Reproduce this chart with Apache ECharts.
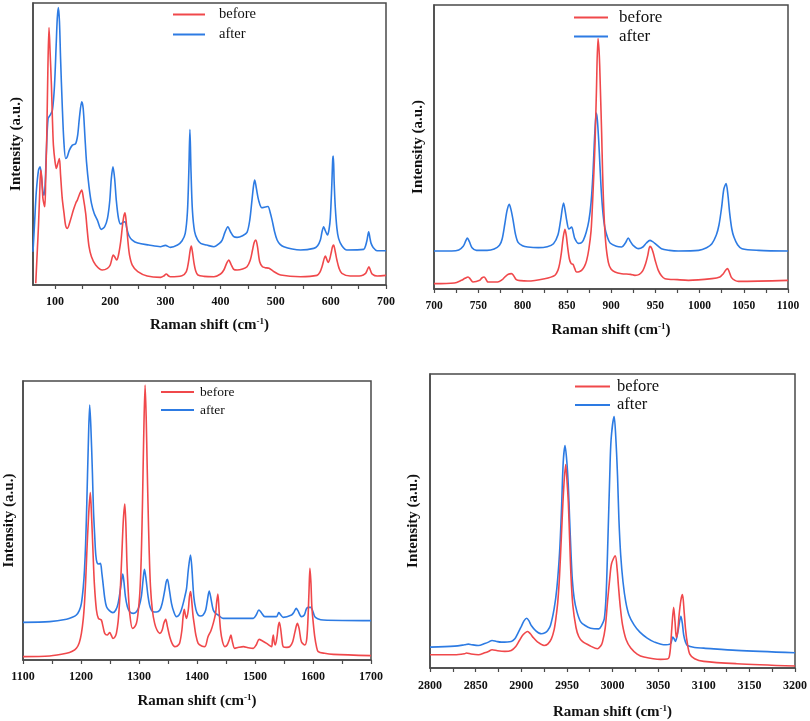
<!DOCTYPE html>
<html>
<head>
<meta charset="utf-8">
<script src="https://cdn.jsdelivr.net/npm/echarts@6/dist/echarts.min.js"></script>
<style>
html,body{margin:0;padding:0;background:#fff;}
#chart{width:810px;height:721px;}
</style>
</head>
<body>
<div id="chart"></div>
<script>
// ---------- Data (Raman shift, intensity a.u.) ----------
const seriesNames = ['before', 'after'];

// Panel 1 : 60-700 cm-1
const p1Before = [[65,5],[66,40],[68,110],[70,180],[72,270],[74,345],[76,320],[78,260],[81.3,235],[83,320],[85,450],[87,650],[89,773],[91,700],[93.4,600],[95,510],[97,420],[100,370],[102.4,350],[105,365],[107.8,380],[110,330],[113,260],[116.3,215],[119,180],[122.3,170],[127,190],[133.2,225],[138,248],[140.4,255],[145,275],[148.3,285],[151,265],[155.5,215],[158,170],[161.6,115],[166,85],[173.6,60],[185.7,45],[195,50],[200,60],[205.6,90],[208,85],[211.7,75],[215,90],[219,130],[222,175],[224.5,205],[226.8,217],[229,190],[232.2,130],[235,90],[240,60],[250,40],[267,27],[291.3,23],[297,27],[301.6,33],[306,27],[309,25],[330,28],[338,40],[342,70],[345,105],[347,117],[349,100],[352,65],[355,42],[359,30],[370,26],[388,25],[400,33],[406,45],[411,65],[415,75],[419,62],[424,47],[430,45],[440,48],[448,55],[454,75],[458,105],[461,128],[464,135],[467,115],[471,70],[476,55],[481,52],[488,50],[497,40],[509,30],[545,25],[575,29],[580,38],[584,55],[588,80],[590,87],[592,80],[595,68],[598,78],[601,100],[603,115],[605,120],[608,100],[611,75],[615,50],[620,35],[635,27],[655,28],[663,35],[666,45],[669,55],[672,43],[675,33],[684,27],[700,29]];
const p1After = [[60,100],[63,190],[66,280],[70,345],[72.8,355],[75,330],[78,280],[80.1,270],[82,300],[84,390],[87.3,500],[91,510],[95.2,525],[99,600],[102,720],[104,800],[106,833],[108,790],[110,680],[113,540],[116,430],[119.3,380],[122,385],[126,405],[131.4,420],[137.4,425],[141,450],[144,500],[148.3,550],[151,530],[154,450],[157,370],[161.6,295],[166,245],[171,215],[176.7,195],[183.9,167],[190,175],[195,200],[199,250],[202,320],[205,355],[208,320],[211,255],[215,200],[218.9,183],[223,188],[226.8,190],[230,170],[234,148],[240,135],[250,126],[270,120],[291,115],[300,119],[309,113],[322,120],[330,132],[336,155],[340,220],[342.5,340],[344.5,467],[346.5,340],[349,225],[353,160],[358,137],[364,125],[375,120],[388,115],[398,125],[403,135],[408,158],[413.3,175],[418,160],[424,145],[430,143],[440,148],[448,158],[453,195],[457,255],[460,300],[462,315],[465,290],[469,255],[475,232],[481,234],[486,236],[490,218],[493.5,195],[498,160],[502.6,135],[508,122],[514.7,115],[530,108],[545,105],[569,110],[576,118],[581,135],[584,160],[587,175],[590,163],[594,150],[597,170],[599,200],[601.5,290],[603.5,380],[604.5,387],[606,310],[608,235],[611,170],[614,140],[620,118],[629,105],[659.5,107],[663,118],[665.6,135],[668.6,160],[671,140],[673,125],[677,112],[683.7,103],[700,103]];

// Panel 2 : 700-1100 cm-1
const p2Before = [[700,16],[723,18],[731,26],[735,32],[738.5,36],[741,30],[744,21],[751.7,26],[754,33],[756.6,36],[759,28],[761,21],[772,21],[777,28],[780,36],[784,44],[787.5,46],[790,40],[793,28],[798,25],[806,24],[825,31],[836.6,41],[840,56],[842,76],[844,110],[846,155],[848,179],[849.5,160],[851,126],[853,90],[855,76],[857,74],[859,62],[861,51],[864,52],[866.8,56],[870,68],[872.5,86],[875,120],[877.5,175],[879,250],[880.5,340],[882,440],[883.5,590],[885.3,751],[886.8,700],[888,600],[889.4,470],[890.5,350],[892,230],[894,140],[897,80],[900,60],[904.5,51],[912,46],[922,44],[927,41],[932,44],[936,55],[939,75],[941.5,100],[944,128],[946,122],[948,106],[950,85],[953.6,55],[957,40],[961,31],[975,28],[987.5,26],[1014,31],[1023,36],[1027,46],[1029.5,56],[1031.7,61],[1033.5,52],[1036,35],[1040,26],[1044,23],[1100,26]];
const p2After = [[700,114],[720,114],[728,117],[733,128],[736,145],[737.7,153],[740,142],[743,124],[748,116],[760,116],[768,120],[774,131],[777,150],[780,195],[782.5,235],[785,254],[787,238],[789.4,206],[792,165],[795,140],[800,130],[806,126],[818,124],[828,127],[835,136],[840,162],[843,205],[846.4,258],[848.5,230],[850,205],[852.5,180],[855.5,186],[857.5,168],[859,152],[863,137],[866,138],[868.7,146],[872,170],[875,205],[877.5,260],[879.5,340],[881,430],[882.5,505],[883.4,528],[884.5,510],[886,450],[887.5,370],[889,295],[891,225],[893,185],[896,155],[899,138],[906,128],[912,126],[916,137],[919.6,153],[922,142],[925,131],[931,121],[936,126],[940,138],[944,146],[947,142],[950,136],[957,121],[966,116],[976,114],[999,116],[1008,124],[1014,136],[1019,162],[1022,192],[1025,245],[1027.5,300],[1030,316],[1032,285],[1034,230],[1036.5,180],[1039,155],[1043,133],[1048,121],[1066.8,116],[1100,114]];

// Panel 3 : 1100-1700 cm-1
const p3Before = [[1100,10],[1146,12],[1175,20],[1185,26],[1192,35],[1197,52],[1200.7,80],[1204,125],[1206,170],[1208,235],[1210,320],[1213,430],[1216,502],[1218,440],[1220.8,320],[1223,230],[1226.6,150],[1230,125],[1235,120],[1238,100],[1240.9,80],[1245,75],[1249.6,82],[1252,75],[1255,65],[1258,68],[1261,80],[1264,115],[1266,160],[1268,220],[1270.5,320],[1273,420],[1275.5,468],[1277.5,400],[1279,300],[1281,220],[1284,140],[1288.7,95],[1292,98],[1295.6,110],[1298,135],[1301,190],[1303,260],[1304.5,350],[1306,470],[1308,660],[1310.5,825],[1312.5,720],[1314,590],[1315.5,470],[1317.5,330],[1319.8,220],[1323,150],[1327,110],[1331,90],[1336,80],[1340,90],[1342.8,110],[1346,122],[1349,100],[1353,70],[1357,50],[1361.7,40],[1366,42],[1370,50],[1374,90],[1376,130],[1378,152],[1380,135],[1382,125],[1385,150],[1387,190],[1389,205],[1391,175],[1393,135],[1395,110],[1398,75],[1402,50],[1408,42],[1413.5,40],[1419,70],[1424,88],[1428,110],[1432,140],[1434,175],[1436,198],[1438,150],[1440.6,90],[1444,55],[1448,40],[1452,45],[1456,62],[1458.4,75],[1461,55],[1465,35],[1472,38],[1480,40],[1488,37],[1497,35],[1502,45],[1507,62],[1513,57],[1520,50],[1528.6,40],[1530,60],[1531.5,75],[1533,55],[1535,45],[1538,70],[1540,100],[1542,113],[1544.5,90],[1546.5,60],[1548.7,40],[1555,38],[1560,40],[1565,55],[1569,85],[1573,110],[1576,95],[1580,55],[1586,45],[1589,60],[1591,110],[1593,200],[1594.7,275],[1596.5,230],[1598,160],[1600.5,110],[1603,70],[1606,40],[1609,25],[1620,20],[1635,17],[1700,13]];
const p3After = [[1100,113],[1146,115],[1175,122],[1185,128],[1192,135],[1197,148],[1200.7,170],[1204,220],[1206,270],[1208,350],[1210,470],[1212.5,640],[1215,765],[1217,700],[1219.7,560],[1221.5,450],[1223.7,370],[1225.5,315],[1227.7,292],[1231,288],[1233.5,290],[1236,260],[1238,230],[1241,185],[1244,160],[1249,148],[1255,142],[1260,150],[1264,170],[1268.6,220],[1270.5,245],[1272,258],[1274,235],[1276.6,190],[1280,160],[1284,145],[1290,140],[1295.6,145],[1300,160],[1304,190],[1307,240],[1309.4,272],[1312,245],[1315.7,190],[1319,160],[1324,145],[1330,144],[1336,150],[1340,170],[1344.5,210],[1347,235],[1349,242],[1352,215],[1356,170],[1360,145],[1364.6,130],[1369,135],[1373,150],[1377,175],[1379,190],[1382,215],[1385,270],[1388.8,315],[1391,280],[1394.5,190],[1398,152],[1402,135],[1406,132],[1410.6,135],[1415,150],[1418,180],[1421,207],[1424,185],[1428,150],[1432,140],[1436.5,135],[1445,125],[1497,125],[1502,135],[1506.7,150],[1511,142],[1517,130],[1537,130],[1541,142],[1544,136],[1548.7,128],[1563,135],[1567,143],[1571,155],[1574,148],[1580,130],[1585,135],[1589,155],[1593,158],[1596,158],[1599,150],[1603,130],[1608,124],[1617.7,120],[1700,118]];

// Panel 4 : 2800-3200 cm-1
const p4Before = [[2800,40],[2827,40],[2838,43],[2840,45],[2845,42],[2853,40],[2860,46],[2864,50],[2868,55],[2874,52],[2882,50],[2889,53],[2894,65],[2898,83],[2902,100],[2907,110],[2910,103],[2912.7,93],[2918,78],[2925,68],[2929,72],[2933,88],[2936,115],[2938,150],[2940,198],[2942,280],[2944,398],[2946.5,540],[2948.7,613],[2950,570],[2951.6,498],[2953,390],[2954.5,278],[2956.5,190],[2960,122],[2963,95],[2967,80],[2976,66],[2983.6,58],[2987,66],[2989,78],[2992,120],[2994.5,198],[2997,270],[2999,315],[3003,338],[3005,300],[3006.5,248],[3008.5,185],[3011,130],[3015,85],[3020,60],[3027,42],[3034.5,33],[3052.7,26],[3060,27],[3062,32],[3063.5,60],[3065,120],[3067,183],[3068.5,140],[3070,92],[3071.5,110],[3073,160],[3075,205],[3076.7,221],[3078.5,170],[3080,118],[3082,75],[3084.7,42],[3090,28],[3100,20],[3136,13],[3200,6]];
const p4After = [[2800,63],[2827,66],[2838,70],[2842,72],[2846,70],[2853,68],[2860,74],[2864,78],[2868,83],[2873,80],[2878,78],[2889,80],[2893,88],[2896,103],[2900,125],[2903,142],[2906,150],[2908.5,142],[2911,128],[2916,112],[2922,103],[2926,106],[2929,113],[2932,128],[2936,178],[2939,240],[2942,348],[2944,470],[2946,620],[2948,670],[2950,620],[2951.6,548],[2953,450],[2954.5,348],[2956,265],[2958,210],[2961,170],[2965,140],[2970,128],[2976,120],[2985,118],[2988,128],[2991,148],[2993,220],[2995,390],[2997,580],[2998.5,690],[3001.8,758],[3003.5,700],[3005.5,580],[3007,450],[3009,340],[3011.5,260],[3014.5,200],[3018,160],[3023.6,130],[3030,108],[3038,90],[3046,78],[3056,70],[3063.6,73],[3066,93],[3067.5,88],[3069,80],[3071.6,108],[3073.5,140],[3075,156],[3076.5,135],[3078,100],[3080,78],[3082,68],[3090,62],[3100,60],[3136,53],[3200,46]];

// Axis ranges and ticks
const xRanges = [[60,700],[700,1100],[1100,1700],[2800,3200]];
const yMax = [847, 852, 837, 886];
const labelValues = [
  [100,200,300,400,500,600,700],
  [700,750,800,850,900,950,1000,1050,1100],
  [1100,1200,1300,1400,1500,1600,1700],
  [2800,2850,2900,2950,3000,3050,3100,3150,3200]
];
const tickValues = [
  [100,150,200,250,300,350,400,450,500,550,600,650,700],
  [700,725,750,775,800,825,850,875,900,925,950,975,1000,1025,1050,1075,1100],
  [1100,1150,1200,1250,1300,1350,1400,1450,1500,1550,1600,1650,1700],
  [2800,2825,2850,2875,2900,2925,2950,2975,3000,3025,3050,3075,3100,3125,3150,3175,3200]
];
const panelData = [[p1Before,p1After],[p2Before,p2After],[p3Before,p3After],[p4Before,p4After]];

// ---------- Layout ----------
const grids = [
  {left:33, top:3, width:353, height:282},
  {left:434, top:5, width:354, height:284},
  {left:23, top:381, width:348, height:279},
  {left:430, top:374, width:367, height:295}
];
const xNameGap = [32, 33, 33, 36];
const yNameGap = [9, 8, 6, 9];
const labelMargin = [11, 11, 11, 12];
const legendPos = [
  {left:172, top:7, gap:5, font:14.5, w:32, pad:9},
  {left:573, top:9, gap:2, font:17, w:34, pad:6},
  {left:160, top:385, gap:4, font:13.5, w:33, pad:1},
  {left:574, top:378, gap:1.5, font:16.5, w:35, pad:2}
];
const colors = ['#f0484b', '#2d7be3'];
const serif = '"Liberation Serif","Times New Roman",serif';

const option = {
  animation: false,
  backgroundColor: '#fff',
  grid: grids.map(g => Object.assign({show:true, borderColor:'#4a4a4a', borderWidth:1.5, backgroundColor:'transparent'}, g)),
  legend: legendPos.map((l, i) => ({
    data: seriesNames,
    orient: 'vertical',
    left: l.left, top: l.top, padding: 0,
    itemWidth: l.w, itemHeight: 14, itemGap: l.gap,
    itemStyle: {opacity: 0},
    lineStyle: {width: 2},
    textStyle: {fontFamily: serif, fontSize: l.font, lineHeight: 14, color: '#111', padding: [0,0,0,l.pad]},
    selectedMode: false
  })),
  xAxis: xRanges.map((r, i) => ({
    type: 'value', gridIndex: i, min: r[0], max: r[1],
    name: 'Raman shift (cm{sup|-1})',
    nameLocation: 'middle', nameGap: xNameGap[i],
    nameTextStyle: {fontFamily: serif, fontWeight: 'bold', fontSize: 15, color: '#111',
      rich: {sup: {fontFamily: serif, fontWeight: 'bold', fontSize: 9, verticalAlign: 'top', padding:[0,0,8,0], color:'#111'}}},
    axisLine: {show: true, lineStyle: {color: '#4a4a4a', width: 1.5}},
    axisTick: {show: true, inside: false, length: 4, customValues: tickValues[i], lineStyle: {color: '#4a4a4a', width: 1.2}},
    axisLabel: {customValues: labelValues[i], formatter: v => String(v), fontFamily: serif, fontWeight: 'bold', fontSize: i === 1 ? 11.5 : 12, color: '#111', margin: labelMargin[i]},
    splitLine: {show: false}
  })),
  yAxis: yMax.map((m, i) => ({
    type: 'value', gridIndex: i, min: 0, max: m,
    name: 'Intensity (a.u.)', nameLocation: 'middle', nameGap: yNameGap[i], nameRotate: 90,
    nameTextStyle: {fontFamily: serif, fontWeight: 'bold', fontSize: 15, color: '#111'},
    axisLine: {show: true, lineStyle: {color: '#4a4a4a', width: 1.5}},
    axisTick: {show: false}, axisLabel: {show: false}, splitLine: {show: false}
  })),
  series: []
};

panelData.forEach((pair, i) => {
  pair.forEach((d, k) => {
    option.series.push({
      type: 'line', name: seriesNames[k], xAxisIndex: i, yAxisIndex: i,
      data: d, symbol: 'none', showSymbol: false,
      smooth: 0.3,
      color: colors[k],
      lineStyle: {color: colors[k], width: 1.6},
      z: k === 0 ? 3 : 2
    });
  });
});

const chart = echarts.init(document.getElementById('chart'), null, {renderer: 'canvas'});
chart.setOption(option);
</script>
</body>
</html>
